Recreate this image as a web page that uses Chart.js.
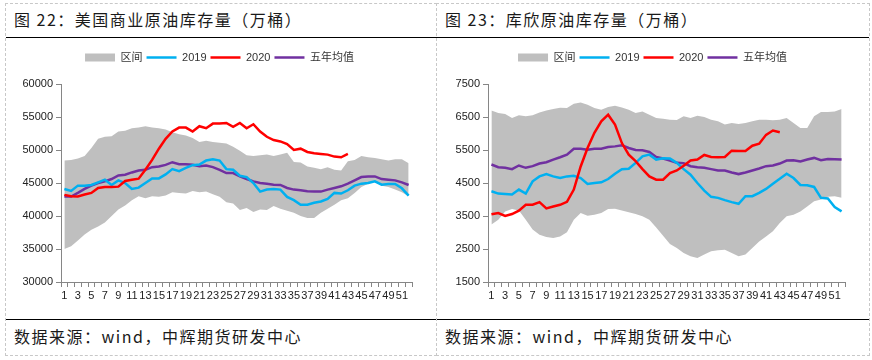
<!DOCTYPE html>
<html>
<head>
<meta charset="utf-8">
<script src="https://cdn.jsdelivr.net/npm/chart.js@4.4.0/dist/chart.umd.min.js"></script>
<style>
  body { margin: 0; width: 872px; height: 360px; overflow: hidden; position: relative; background: #fff;
         font-family: "Noto Sans CJK SC", sans-serif; }
  .panel { position: absolute; top: 3px; height: 353px; border: 1px dashed #c8c8c8; box-sizing: border-box; }
  #p1 { left: 5px; width: 432px; border-right: none; }
  #p2 { left: 436px; width: 434px; }
  .title, .note { position: absolute; left: 8px; font-size: 16px; line-height: 20px; letter-spacing: 1.5px;
                  color: #1a1a1a; white-space: nowrap; }
  .title { top: 5px; }
  .note { top: 322px; }
  .rule { position: absolute; left: 0; right: 0; height: 1px; background: #000; }
  canvas { position: absolute; top: 38px; }
  #c1 { left: 5px; }
  #c2 { left: 437px; }
</style>
</head>
<body>
<div class="panel" id="p1">
  <div class="title">图 22：美国商业原油库存量（万桶）</div>
  <div class="rule" style="top:33px"></div>
  <div class="rule" style="top:315px"></div>
  <div class="note">数据来源：wind，中辉期货研发中心</div>
</div>
<div class="panel" id="p2">
  <div class="title">图 23：库欣原油库存量（万桶）</div>
  <div class="rule" style="top:33px"></div>
  <div class="rule" style="top:315px"></div>
  <div class="note">数据来源：wind，中辉期货研发中心</div>
</div>
<canvas id="c1" width="431" height="280"></canvas>
<canvas id="c2" width="431" height="280"></canvas>

<script>
// week numbers on the x axis
const weeks = ["1","2","3","4","5","6","7","8","9","10","11","12","13","14","15","16","17","18","19","20",
  "21","22","23","24","25","26","27","28","29","30","31","32","33","34","35","36","37","38","39","40",
  "41","42","43","44","45","46","47","48","49","50","51","52"];

const seriesNames = ["区间", "2019", "2020", "五年均值"];

// 图22 美国商业原油库存（万桶）
const usUpper = [48400,48500,48700,49100,50300,51700,52000,52100,52800,52900,53300,53400,53600,53400,53300,53100,52700,52400,52200,51800,
  51200,51400,51200,51100,51000,50500,49900,49200,49100,49200,49300,49100,49300,49600,48200,48100,47500,47300,47100,47400,
  47000,46900,48300,48500,49100,48900,48800,48600,48400,48600,48600,48000];
const usLower = [35000,35400,36300,37200,37900,38400,39000,40000,41000,41600,42400,43000,42700,43000,42900,43100,43600,43500,43400,43800,
  43600,43700,43300,42900,42100,41900,40900,41200,40600,41000,40900,41500,41100,40800,40500,40000,39700,39700,40500,41100,
  41700,42400,42700,43500,44400,44900,45200,44600,44400,44000,43600,43000];
const us2019 = [44100,43800,44600,44600,44700,45100,45500,44700,45400,45000,44100,44300,45000,45700,45700,46300,47100,46800,47300,47700,
  47800,48400,48600,48400,47100,47000,46100,45900,45000,43700,44000,44100,44000,42900,42400,41700,41700,42000,42200,42600,
  43500,43400,43900,44600,44900,45000,45250,44750,44850,44850,44200,43100];
const us2020 = [43200,43000,42950,43250,43500,44250,44400,44400,44450,45300,45500,45650,47000,48500,50200,51700,52800,53400,53400,52800,
  53600,53300,54000,54000,54100,53500,54100,53300,53900,52800,52000,51500,51300,50900,50000,50200,49700,49500,49400,49300,
  49000,48900,49400];
const usAvg = [42950,42950,43500,44100,44600,45000,45250,45600,46150,46250,46600,46900,47000,47400,47500,47750,48150,47850,47850,47750,
  47550,47650,47400,47000,46500,46500,46000,45600,45250,45000,44900,44750,44700,44250,44000,43900,43750,43700,43700,44000,
  44250,44500,44900,45400,45900,46000,46000,45600,45500,45400,45100,44700];

// 图23 库欣原油库存（万桶）
const cuUpper = [6700,6620,6590,6470,6550,6520,6550,6640,6700,6740,6780,6770,6900,6940,6870,6770,6720,6800,6840,6790,
  6720,6620,6670,6570,6470,6450,6420,6410,6520,6470,6540,6500,6420,6370,6270,6320,6290,6320,6370,6420,
  6420,6400,6420,6470,6320,6170,6170,6520,6650,6650,6670,6740];
const cuLower = [3240,3390,3640,3710,3670,3390,3090,2930,2860,2830,2880,3010,3390,3590,3510,3540,3590,3710,3720,3670,
  3610,3560,3490,3390,3150,2900,2650,2530,2380,2280,2230,2330,2430,2460,2480,2380,2280,2330,2530,2730,
  2880,3040,3290,3490,3540,3640,3790,3950,4000,4080,4100,4050];
const cu2019 = [4250,4180,4170,4150,4300,4180,4550,4700,4770,4700,4650,4700,4720,4650,4470,4500,4520,4620,4780,4920,
  4930,5110,5310,5360,5210,5250,5240,5110,4920,4750,4500,4270,4080,4050,3980,3920,3870,4100,4100,4200,
  4320,4480,4630,4780,4650,4440,4430,4380,4050,4030,3770,3640];
const cu2020 = [3550,3590,3500,3560,3660,3840,3840,3920,3730,3790,3840,3930,4300,5000,5560,6020,6370,6570,6270,5710,
  5360,5160,4920,4700,4600,4600,4800,4880,5020,5180,5210,5350,5290,5280,5290,5480,5470,5470,5630,5690,
  5960,6090,6040];
const cuAvg = [5060,4980,4960,4920,5030,4960,5010,5090,5130,5210,5280,5360,5540,5540,5510,5540,5540,5590,5610,5640,
  5560,5500,5490,5440,5290,5240,5180,5110,5100,5010,4980,4960,4920,4880,4880,4820,4770,4820,4880,4940,
  5010,5030,5090,5180,5190,5150,5210,5260,5190,5230,5220,5210];

const GRAY = "#bfbfbf", BLUE = "#00b0f0", RED = "#ff0000", PURPLE = "#7030a0", AXIS = "#868686";
const FONT = "'Liberation Sans', Arial, 'Noto Sans CJK SC', sans-serif";

const lineSet = (label, data, color, order) => ({
  label, data, order,
  borderColor: color, backgroundColor: color,
  borderWidth: 2.5, pointRadius: 0, pointHoverRadius: 0,
  pointBorderWidth: 2.5, pointBorderColor: color, pointBackgroundColor: color,
  pointStyle: "line", tension: 0, fill: false
});

// fixed legend height, and a small sideways nudge so it sits where the original has it
const legendPlace = {
  id: "legendPlace",
  beforeInit(chart) {
    const fit = chart.legend.fit;
    chart.legend.fit = function () { fit.call(this); this.height = 36; };
  },
  afterLayout(chart, args, opts) {
    chart.legend.left += opts.dx;
    chart.legend.right += opts.dx;
  }
};

function makeChart(id, upper, lower, s2019, s2020, avg, yMin, yMax, yStep, yWidth, padRight, dx) {
  return new Chart(document.getElementById(id), {
    type: "line",
    data: {
      labels: weeks,
      datasets: [
        { label: seriesNames[0], data: upper, order: 5, fill: 4,
          borderWidth: 0, borderColor: GRAY, backgroundColor: GRAY,
          pointRadius: 0, pointHoverRadius: 0, pointStyle: "rect",
          pointBorderWidth: 0, pointBackgroundColor: GRAY, tension: 0 },
        lineSet(seriesNames[1], s2019, BLUE, 1),
        lineSet(seriesNames[2], s2020, RED, 0),
        lineSet(seriesNames[3], avg, PURPLE, 2),
        { label: "min", data: lower, order: 6, fill: false,
          borderWidth: 0, borderColor: "rgba(0,0,0,0)", pointRadius: 0, pointHoverRadius: 0, tension: 0 }
      ]
    },
    options: {
      responsive: false,
      animation: false,
      layout: { padding: { left: 0, right: padRight, top: 10, bottom: 14 } },
      plugins: {
        tooltip: { enabled: false },
        legendPlace: { dx },
        legend: {
          position: "top",
          labels: {
            usePointStyle: true, pointStyleWidth: 30, boxHeight: 8, padding: 4,
            color: "#333", font: { family: FONT, size: 11 },
            filter: item => item.datasetIndex !== 4,
            sort: (a, b) => a.datasetIndex - b.datasetIndex
          }
        }
      },
      scales: {
        x: {
          offset: true,
          afterFit: s => { s.height = 22; },
          grid: { display: true, drawOnChartArea: false, drawTicks: true, tickLength: 5, color: AXIS, offset: true },
          border: { display: true, color: AXIS },
          ticks: {
            autoSkip: false, maxRotation: 0, minRotation: 0, padding: 2,
            color: "#222", font: { family: FONT, size: 11 },
            callback: (v, i) => (i % 2 === 0 ? weeks[i] : "")
          }
        },
        y: {
          min: yMin, max: yMax,
          afterFit: s => { s.width = yWidth; },
          grid: { display: true, drawOnChartArea: false, drawTicks: true, tickLength: 5, color: AXIS },
          border: { display: true, color: AXIS },
          ticks: { stepSize: yStep, padding: 3, color: "#222", font: { family: FONT, size: 11 },
                   callback: v => String(v) }
        }
      }
    },
    plugins: [legendPlace]
  });
}

makeChart("c1", usUpper, usLower, us2019, us2020, usAvg, 30000, 60000, 5000, 56, 24, 11);
makeChart("c2", cuUpper, cuLower, cu2019, cu2020, cuAvg, 1500, 7500, 1000, 51, 23, 11.5);
</script>
</body>
</html>
